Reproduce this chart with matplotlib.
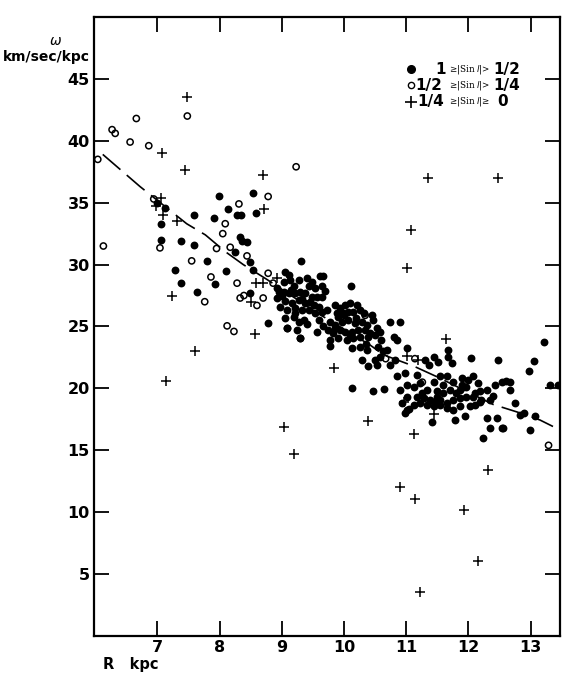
import numpy as np
from matplotlib import pyplot as plt

# filled dots: 1 >= |sin l| > 1/2
r_full = [7.00, 7.12, 7.06, 7.05, 7.99, 8.54, 8.14, 8.58, 8.28, 8.34, 7.58, 7.91, 8.33, 8.36, 8.44,
          8.24, 7.38, 7.59, 7.79, 8.10, 8.49, 8.53, 7.29, 7.38, 7.92, 7.64, 8.49, 9.31, 8.78,
          9.08, 9.29, 9.78, 8.92, 8.92, 8.97, 8.95,
          9.05, 9.11, 9.03, 9.13, 9.19, 9.27, 9.40, 9.48, 9.62, 9.67, 9.43, 9.54, 9.64, 9.03, 9.11,
          9.21, 9.29, 9.37, 9.48, 9.56, 9.64, 9.05, 9.16, 9.27, 9.37, 9.51, 9.59, 9.08, 9.21, 9.32,
          9.43, 9.54, 9.64, 9.05, 9.19, 9.27, 9.35, 9.08, 9.24, 9.29, 9.56, 9.67, 10.11,
          9.86, 9.94, 10.02, 10.10, 10.21, 9.88, 9.99, 10.07, 10.15, 10.26, 10.45, 10.47, 9.78, 9.86,
          9.96, 10.07, 10.18, 10.29, 10.37, 9.75, 9.83, 9.94, 10.02, 10.13, 10.23, 10.34, 10.53, 9.78,
          9.91, 10.05, 10.15, 10.26, 10.39, 10.50, 10.58, 10.13, 10.26, 10.37, 10.55, 10.63, 10.69,
          10.58, 10.74, 10.90, 10.80, 10.85, 10.50, 10.53, 10.39, 10.29,
          11.01, 10.82, 10.74, 10.85, 10.98, 11.17, 11.30, 11.36, 11.44, 11.52, 11.68, 11.68, 11.73,
          12.05, 12.48, 13.21, 13.05, 12.98, 13.31, 13.45, 10.90, 11.01, 11.12, 11.22, 11.33, 11.44,
          11.55, 11.65, 11.76, 11.89, 12.00, 12.08, 12.16, 11.97, 11.87, 11.71, 11.60, 11.49, 11.38,
          11.28, 11.17, 11.01, 10.93, 11.12, 11.22, 11.33, 11.44, 11.55, 11.65, 11.76, 11.87, 11.97,
          12.08, 12.19, 12.30, 12.43, 12.54, 12.67, 12.67, 12.35, 12.19, 12.11, 12.03, 11.87, 11.76,
          11.65, 11.55, 11.44, 11.01, 10.98, 11.41, 11.79, 11.95, 12.30, 12.46, 12.75, 12.83, 12.89,
          13.07, 12.24, 12.35, 12.54, 12.99, 10.13, 10.46, 10.65, 11.04, 12.61, 12.55,
          9.00, 9.15, 9.33, 9.45, 9.70, 9.72, 9.90, 10.00, 10.20, 10.32, 10.42, 10.60, 9.22, 9.40,
          9.60, 9.85, 10.10, 10.35, 11.25, 11.50, 11.80, 12.10, 12.40, 11.60, 11.90, 12.20]
w_full = [34.95, 34.6, 33.3, 32.0, 35.55, 35.8, 34.5, 34.2, 34.0, 34.0, 34.0, 33.8, 32.2, 31.9, 31.8,
          31.05, 31.9, 31.55, 30.3, 29.5, 30.2, 29.6, 29.55, 28.5, 28.4, 27.8, 27.7, 30.3, 25.3,
          24.9, 24.05, 23.4, 28.1, 27.3, 26.6, 27.8,
          29.44, 29.17, 28.63, 28.77, 28.23, 28.77, 28.9, 28.63, 29.04, 29.04, 28.23, 28.09, 28.23, 27.82, 27.69,
          27.69, 27.82, 27.69, 27.42, 27.42, 27.42, 27.02, 26.88, 27.15, 26.88, 26.75, 26.61, 26.34, 26.48, 26.34,
          26.34, 26.07, 26.21, 25.67, 25.8, 25.4, 25.54, 24.86, 24.73, 24.06, 24.59, 25.0, 28.3,
          26.75, 26.48, 26.75, 26.88, 26.75, 26.07, 26.07, 26.21, 26.21, 26.34, 25.94, 25.54, 25.4, 25.13,
          25.4, 25.54, 25.27, 25.4, 25.13, 24.73, 24.46, 24.73, 24.59, 24.59, 24.73, 24.73, 24.86, 23.92,
          24.06, 23.92, 24.06, 24.19, 24.19, 24.33, 24.59, 23.25, 23.38, 23.11, 23.38, 22.98, 23.11,
          22.57, 25.4, 25.4, 24.19, 23.92, 22.3, 21.9, 21.77, 22.3,
          23.25, 22.3, 21.9, 20.96, 21.23, 21.09, 22.3, 21.9, 22.57, 22.17, 23.11, 22.57, 22.04,
          22.44, 22.3, 23.73, 22.22, 21.44, 20.3, 20.3, 19.88, 20.28, 20.15, 20.42, 19.88, 20.55,
          20.96, 20.96, 20.55, 20.82, 20.69, 20.96, 20.42, 20.15, 19.88, 19.88, 19.61, 19.34, 19.07,
          19.21, 19.34, 19.34, 18.8, 18.67, 18.8, 18.67, 18.94, 19.07, 18.8, 19.07, 19.21, 19.34,
          19.34, 19.75, 19.88, 20.28, 20.55, 20.55, 19.88, 19.07, 18.94, 18.67, 18.54, 18.54, 18.27,
          18.4, 18.67, 18.54, 18.27, 18.0, 17.32, 17.46, 17.73, 17.59, 17.59, 18.8, 17.86, 18.0,
          17.73, 15.98, 16.78, 16.78, 16.6, 20.02, 19.75, 19.94, 18.3, 20.6, 16.8,
          27.5, 27.95, 27.2, 27.0, 27.9, 26.3, 25.8, 25.95, 25.7, 26.05, 24.5, 23.9, 26.1, 25.2,
          25.5, 24.9, 24.3, 23.6, 19.6, 19.8, 19.6, 19.6, 19.4, 20.3, 20.3, 19.1]

# open circles: 1/2 >= |sin l| > 1/4
r_half = [6.04, 6.27, 6.32, 6.66, 6.56, 6.86, 7.48, 6.13, 6.94, 7.04, 8.31, 8.78, 8.09, 8.05, 7.95,
          8.17, 8.44, 7.55, 7.86, 8.28, 8.78, 8.86, 7.76, 8.33, 8.39, 8.60, 8.70, 8.12, 8.23, 9.23,
          10.34, 10.67, 11.14, 11.26, 13.29]
w_half = [38.5, 40.9, 40.6, 41.8, 39.9, 39.6, 42.0, 31.5, 35.3, 31.35, 34.9, 35.5, 33.3, 32.5, 31.3,
          31.4, 30.7, 30.3, 29.0, 28.5, 29.3, 28.5, 27.0, 27.3, 27.5, 26.7, 27.3, 25.05, 24.6, 37.9,
          25.9, 22.4, 22.4, 20.5, 15.4]

# crosses: 1/4 >= |sin l| >= 0
r_quar = [7.48, 7.08, 7.45, 8.69, 8.71, 7.06, 6.97, 7.09, 7.31, 7.24, 8.59, 8.70, 8.93, 8.51, 8.57,
          7.61, 7.13, 11.01, 11.64, 11.01, 11.19, 9.84, 9.03, 10.38, 10.97, 11.45, 11.13, 9.19, 12.31,
          10.90, 11.15, 11.93, 12.16, 11.22, 11.35, 12.47, 11.08]
w_quar = [43.5, 39.05, 37.65, 37.25, 34.5, 35.4, 34.7, 34.0, 33.5, 27.5, 28.55, 28.55, 28.9, 27.0, 24.4,
          23.05, 20.6, 29.7, 24.0, 22.6, 22.3, 21.65, 16.9, 17.35, 18.9, 17.9, 16.3, 14.7, 13.4,
          12.0, 11.1, 10.2, 6.05, 3.55, 37.0, 37.0, 32.8]

# dashed curve
curve_r = [6.12, 6.72, 7.47, 7.77, 8.09, 8.38, 8.76, 9.6, 10.42, 10.64, 11.12, 11.49, 12.4, 12.78, 13.15, 13.41]
curve_w = [38.9, 36.3, 33.3, 32.4, 31.05, 30.0, 28.8, 26.0, 23.5, 22.7, 21.8, 20.95, 18.7, 18.1, 17.45, 16.8]

fig = plt.figure(figsize=(5.7, 6.77), dpi=100)
ax = fig.add_axes([0.165, 0.0606, 0.817, 0.9143])

ax.plot(curve_r, curve_w, color='black', lw=1.2, dashes=(14, 5))
ax.scatter(r_full, w_full, s=32, c='black', linewidths=0)
ax.scatter(r_half, w_half, s=20, facecolors='none', edgecolors='black', linewidths=1.1)
ax.scatter(r_quar, w_quar, s=60, marker='+', c='black', linewidths=1.1)

ax.set_xlim(5.98, 13.47)
ax.set_ylim(0, 50)
ax.set_xticks(range(7, 14))
ax.set_yticks(range(5, 50, 5))
ax.tick_params(direction='in', length=11, width=1.3, top=True, right=True,
               labeltop=False, labelright=False, labelsize=11.5, pad=3)
for lab in ax.get_xticklabels() + ax.get_yticklabels():
    lab.set_fontweight('bold')
for s in ax.spines.values():
    s.set_linewidth(1.6)

fig.text(0.005, 0.916, 'km/sec/kpc', fontsize=10, fontweight='bold', ha='left', va='center')
fig.text(0.097, 0.94, r'$\omega$', fontsize=10, ha='center', va='center')
fig.text(0.18, 0.019, 'R   kpc', fontsize=10.5, fontweight='bold', ha='left', va='center')

# legend
rows = [(0.9155, 'o', 'black', '1', '≥|Sin $l$|>', '1/2', 0.733, '>'),
        (0.890, 'o', 'none', '1/2', '≥|Sin $l$|>', '1/4', 0.689, '>'),
        (0.863, '+', 'black', '1/4', '≥|Sin $l$|≥', '0', 0.695, '≥')]
for y, mk, fc, a, mid, b, xa, last in rows:
    if mk == '+':
        ax.plot([0.681], [y], marker='+', ms=8, mew=1.2, color='black', transform=ax.transAxes)
    else:
        ax.plot([0.680], [y], marker='o', ms=5.5 if fc == 'black' else 4.5, mfc=fc, mec='black',
                mew=1.0, transform=ax.transAxes)
    ax.text(xa, y, a, transform=ax.transAxes, fontsize=11, fontweight='bold', va='center')
    ax.text(0.762, y, mid, transform=ax.transAxes, fontsize=6.3, family='DejaVu Serif', va='center')
    ax.text(0.858 if b != '0' else 0.866, y, b, transform=ax.transAxes, fontsize=11,
            fontweight='bold', va='center')

fig.savefig('out.png', dpi=100)
